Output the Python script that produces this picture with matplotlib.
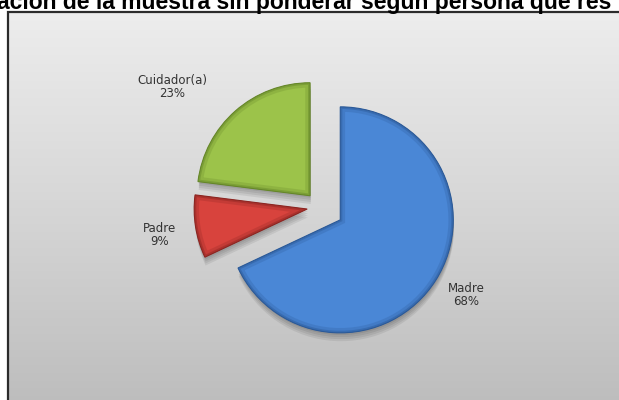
import numpy as np
import matplotlib
matplotlib.use("Agg")
import matplotlib.pyplot as plt
import matplotlib.patheffects as pe
from matplotlib.patches import Rectangle, Wedge
from matplotlib.colors import LinearSegmentedColormap

categorias = ["Madre", "Padre", "Cuidador(a)"]
porcentajes = [68, 9, 23]
colores = ["#4a87d6", "#d8433d", "#9cc34a"]
bordes = ["#2c5a98", "#8c2622", "#66872a"]
separacion = [24, 13, 15]
titulo = "ación de la muestra sin ponderar según persona que res"

W, H = 619, 400
fig = plt.figure(figsize=(W / 100, H / 100), dpi=100)
fig.patch.set_facecolor("white")
ax = fig.add_axes([0, 0, 1, 1])

# fondo gris con degradado dentro del marco
fondo = LinearSegmentedColormap.from_list("fondo", ["#bdbdbd", "#d6d6d6", "#ededed"])
grad = np.linspace(0, 1, 256).reshape(-1, 1)
ax.imshow(grad, extent=(8, W + 5, -5, H - 12), origin="lower", cmap=fondo,
          aspect="auto", zorder=0)
ax.add_patch(Rectangle((8, -5), W, H - 12 + 5, fill=False, edgecolor="#2b2b2b",
                       linewidth=1.6, zorder=1))

wedges, _ = ax.pie(porcentajes, colors=colores, explode=separacion, startangle=90,
                   counterclock=False, radius=113, center=(320, 193),
                   wedgeprops=dict(linewidth=0.8))

sombra = [pe.SimplePatchShadow(offset=(0.5, -d), shadow_rgbFace="k", alpha=0.07)
          for d in (1.5, 3, 4.5, 6)] + [pe.Normal()]
for w, borde in zip(wedges, bordes):
    w.set_edgecolor(borde)
    w.set_zorder(3)
    w.set_path_effects(sombra)
    # borde interior oscuro para dar relieve
    for lw, a in ((7, 0.25), (3, 0.45)):
        rim = Wedge(w.center, w.r, w.theta1, w.theta2, facecolor="none",
                    edgecolor=borde, linewidth=lw, alpha=a, zorder=4)
        ax.add_patch(rim)
        rim.set_clip_path(w)

posiciones = [(466, 105), (160, 165), (172, 313)]
for cat, p, (x, y) in zip(categorias, porcentajes, posiciones):
    ax.text(x, y, f"{cat}\n{p}%", ha="center", va="center", fontsize=8.5,
            color="#333333", linespacing=1.05, zorder=5)

fig.text(-3 / W, 1 - 9 / H, titulo, ha="left", va="baseline", fontsize=16.5,
         fontweight="bold", family="Liberation Sans", color="black")

ax.set_xlim(0, W)
ax.set_ylim(0, H)
ax.set_aspect("auto")
ax.axis("off")

fig.savefig("out.png", dpi=100)
